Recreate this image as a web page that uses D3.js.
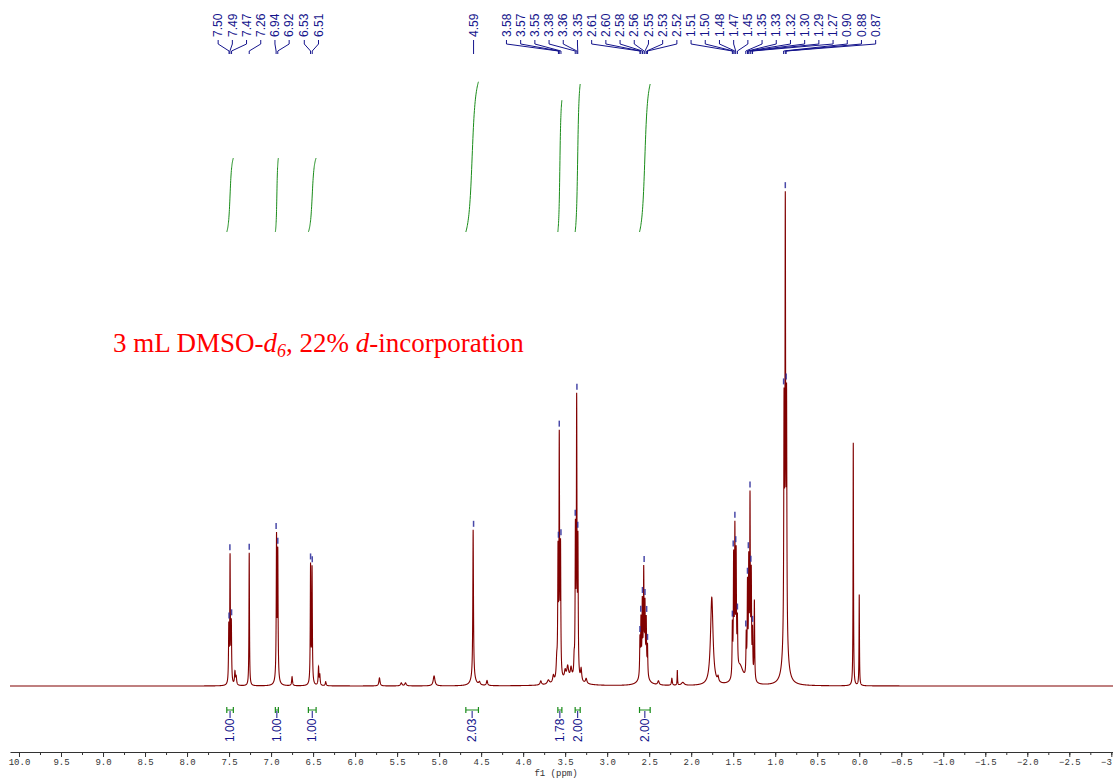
<!DOCTYPE html>
<html lang="en">
<head>
<meta charset="UTF-8">
<title>1H NMR spectrum</title>
<script src="https://d3js.org/d3.v7.min.js"></script>
<style>
  body { margin: 0; background: #fff; }
  svg { display: block; }
  .axis text { font-family: "Liberation Mono", monospace; font-size: 9px; fill: #333; }
  .axis path, .axis line { stroke: #333; }
  .plabel, .ilabel { font-family: Arial, "Liberation Sans", sans-serif; font-size: 12px; fill: #14148c; }
</style>
</head>
<body>
<svg id="nmr" width="1113" height="780"></svg>
<script>
// spectrum lines: position (ppm), height, half width (ppm)
const linePpm = [
  7.503, 7.488, 7.473, 7.43, 7.415, 7.26,
  6.935, 6.92, 6.93, 6.75, 6.53, 6.512, 6.435, 6.42, 6.35,
  5.71, 5.45, 5.40, 5.06, 4.595, 4.595, 4.52, 4.43,
  3.79, 3.70, 3.64, 3.60, 3.585, 3.57, 3.555, 3.50, 3.47, 3.43,
  3.393, 3.378, 3.363, 3.348, 3.31, 3.25, 3.45,
  2.61, 2.598, 2.582, 2.565, 2.55, 2.535, 2.52, 2.565,
  2.39, 2.23, 2.165, 2.10, 1.755, 1.68,
  1.51, 1.495, 1.48, 1.465, 1.45, 1.42,
  1.345, 1.33, 1.315, 1.30, 1.285, 1.27, 1.248,
  0.895, 0.88, 0.865, 0.88, 0.071, 0.0
];
const lineHeight = [
  55, 125, 58, 13, 8, 133,
  135, 122, 12, 9, 118, 115, 18, 10, 4,
  8, 3, 3, 10, 148, 8, 3, 5,
  4, 4, 7, 18, 120, 235, 125, 8, 12, 10,
  15, 140, 270, 130, 12, 5, 6,
  36, 52, 66, 95, 62, 52, 30, 16,
  4, 7, 15, 3, 88, 5,
  50, 115, 140, 115, 48, 18,
  40, 90, 110, 175, 100, 45, 80,
  220, 400, 225, 65, 243, 91
];
const lineWidth = [
  .004, .004, .004, .006, .006, .0035,
  .004, .004, .015, .006, .004, .004, .005, .005, .006,
  .008, .01, .01, .012, .0045, .03, .01, .008,
  .01, .015, .01, .008, .004, .004, .004, .01, .012, .01,
  .005, .004, .004, .004, .008, .01, .12,
  .004, .004, .004, .004, .004, .004, .004, .04,
  .01, .006, .003, .02, .018, .008,
  .004, .004, .004, .004, .004, .05,
  .004, .004, .004, .004, .004, .004, .004,
  .004, .004, .004, .025, .003, .003
];

// peak labels
const peakLabels = [
  "7.50", "7.49", "7.47", "7.26", "6.94", "6.92", "6.53", "6.51",
  "4.59",
  "3.58", "3.57", "3.55", "3.38", "3.36", "3.35",
  "2.61", "2.60", "2.58", "2.56", "2.55", "2.53", "2.52",
  "1.51", "1.50", "1.48", "1.47", "1.45",
  "1.35", "1.33", "1.32", "1.30", "1.29", "1.27",
  "0.90", "0.88", "0.87"
];

// integrals
const integralFrom  = [7.527, 6.949, 6.556, 4.682, 3.587, 3.381, 2.615];
const integralTo    = [7.449, 6.913, 6.464, 4.532, 3.539, 3.321, 2.488];
const integralValue = [1.00, 1.00, 1.00, 2.03, 1.78, 2.00, 2.00];

const majorTicks = d3.range(10, -3.01, -0.5);
const minorTicks = d3.range(10, -3.01, -0.25);

const svg = d3.select("#nmr");
const x = d3.scaleLinear().domain([10.107, -3.02]).range([10, 1113]);
const y = d3.scaleLinear().domain([0, 500]).range([686, 186]);
const yInt = d3.scaleLinear().domain([0, 1]).range([232, 158]);

function spec(p) {
  let s = 0;
  for (let i = 0; i < linePpm.length; i++) {
    const w = lineWidth[i], d = p - linePpm[i];
    s += lineHeight[i] * w * w / (d * d + w * w);
  }
  return s;
}
function topNear(ppm) {
  let m = 0;
  for (let p = ppm - 0.006; p <= ppm + 0.006; p += 0.0005) m = Math.max(m, spec(p));
  return m;
}

// sample spectrum
const step = 0.0005;
const nPts = Math.round((10.107 + 3.02) / step);
const pts = [];
for (let i = 0; i <= nPts; i++) {
  const p = 10.107 - i * step;
  pts.push([p, spec(p)]);
}

svg.append("path")
  .attr("d", d3.line().x(d => x(d[0])).y(d => y(d[1]))(pts))
  .attr("fill", "none")
  .attr("stroke", "#800000")
  .attr("stroke-width", 1.1);

// axis
const axis = svg.append("g").attr("class", "axis").attr("transform", "translate(0,752)");
axis.call(d3.axisBottom(x).tickValues(minorTicks).tickSize(3).tickSizeOuter(0).tickFormat(""));
axis.append("g").call(d3.axisBottom(x).tickValues(majorTicks).tickSize(5).tickSizeOuter(0)
  .tickFormat(d3.format(".1f")))
  .call(g => g.select(".domain").remove())
  .selectAll("text").attr("dy", "0.55em");
axis.append("text")
  .attr("x", 556).attr("y", 24)
  .attr("text-anchor", "middle")
  .text("f1 (ppm)");

// peak label layout: clusters spread evenly around the intensity-weighted centre of their peaks
const spacing = 14.2;
const peakTop = new Map(peakLabels.map(l => [l, topNear(+l)]));
let clusters = peakLabels.map(l => ({ items: [l] }));
function place(c) {
  c.center = d3.sum(c.items, l => x(+l) * peakTop.get(l)) / d3.sum(c.items, l => peakTop.get(l));
  c.left = c.center - (c.items.length - 1) / 2 * spacing;
  c.right = c.center + (c.items.length - 1) / 2 * spacing;
}
clusters.forEach(place);
let merged = true;
while (merged) {
  merged = false;
  for (let i = 0; i < clusters.length - 1; i++) {
    if (clusters[i].right + spacing - 2 > clusters[i + 1].left) {
      clusters[i].items = clusters[i].items.concat(clusters[i + 1].items);
      clusters.splice(i + 1, 1);
      place(clusters[i]);
      merged = true;
      break;
    }
  }
}
const labelPos = [];
clusters.forEach(c => c.items.forEach((l, i) => labelPos.push({ label: l, lx: c.left + i * spacing, px: x(+l) })));

const pl = svg.append("g");
pl.selectAll("path").data(labelPos).join("path")
  .attr("d", d => `M${d.lx},40V44L${d.px},51V54`)
  .attr("fill", "none").attr("stroke", "#14148c").attr("stroke-width", 1);
pl.selectAll("text").data(labelPos).join("text")
  .attr("class", "plabel")
  .attr("transform", d => `translate(${d.lx},37) rotate(-90)`)
  .attr("dy", "0.35em")
  .text(d => d.label);

// peak markers on top of the picked lines
svg.append("g").selectAll("line").data(peakLabels).join("line")
  .attr("x1", d => x(+d)).attr("x2", d => x(+d))
  .attr("y1", d => y(peakTop.get(d)) - 9).attr("y2", d => y(peakTop.get(d)) - 3)
  .attr("stroke", "#2a2a9a").attr("stroke-width", 1.5).attr("opacity", 0.85);

// integral curves
const intShape = t => (Math.atan((t - 0.5) / 0.2) + Math.atan(2.5)) / (2 * Math.atan(2.5));
const ig = svg.append("g");
integralValue.forEach((v, i) => {
  const a = integralFrom[i], b = integralTo[i];
  const cp = d3.range(0, 1.0001, 0.02).map(t => [x(a + (b - a) * t), yInt(v * intShape(t))]);
  ig.append("path").attr("d", d3.line()(cp))
    .attr("fill", "none").attr("stroke", "#1a8c1a").attr("stroke-width", 1);

  const x0 = x(a), x1 = x(b), xm = (x0 + x1) / 2;
  ig.append("path")
    .attr("d", `M${x0},707V713M${x0},710H${x1}M${x1},707V713`)
    .attr("fill", "none").attr("stroke", "#1a8c1a").attr("stroke-width", 1.2);
  ig.append("line").attr("x1", xm).attr("x2", xm).attr("y1", 711).attr("y2", 718)
    .attr("stroke", "#14148c");
  ig.append("text").attr("class", "ilabel")
    .attr("transform", `translate(${xm},742) rotate(-90)`)
    .attr("dy", "0.35em")
    .text(v.toFixed(2));
});

// annotation
const note = svg.append("text")
  .attr("x", 113).attr("y", 352)
  .attr("font-family", "'Liberation Serif', 'Times New Roman', serif")
  .attr("font-size", 27).attr("fill", "#ff0000");
note.append("tspan").text("3 mL DMSO-");
note.append("tspan").attr("font-style", "italic").text("d");
note.append("tspan").attr("font-style", "italic").attr("font-size", 18).attr("dy", 5).text("6");
note.append("tspan").attr("dy", -5).text(", 22% ");
note.append("tspan").attr("font-style", "italic").text("d");
note.append("tspan").text("-incorporation");
</script>
</body>
</html>
